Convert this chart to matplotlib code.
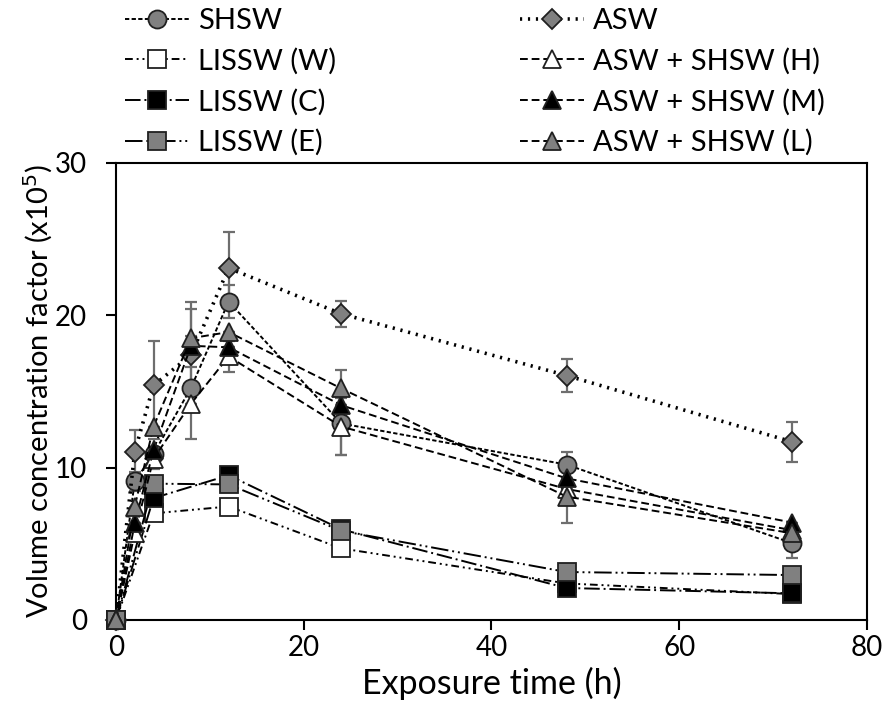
import numpy as np
import matplotlib
matplotlib.use('Agg')
import matplotlib.pyplot as plt

plt.rcParams['font.family'] = ['Lato', 'DejaVu Sans']

#%% datos
t = [0, 2, 4, 8, 12, 24, 48, 72]
t_lissw = [0, 4, 12, 24, 48, 72]

shsw = [0, 9.1, 10.9, 15.25, 20.9, 12.9, 10.2, 5.05]
shsw_err = [0, 0.6, 1.0, 3.4, 1.1, 2.1, 0.85, 1.0]
asw = [0, 11.05, 15.4, 17.4, 23.1, 20.1, 16.05, 11.7]
asw_err = [0, 1.45, 2.9, 3.5, 2.4, 0.85, 1.1, 1.3]

lissw_w = [0, 7.0, 7.45, 4.7, 2.4, 1.7]
lissw_c = [0, 8.0, 9.5, 5.95, 2.1, 1.75]
lissw_e = [0, 8.95, 8.9, 5.85, 3.15, 2.95]

mix_h = [0, 5.7, 10.6, 14.2, 17.3, 12.7, 8.6, 5.9]
mix_h_err = [0, 0, 0, 0, 1.0, 1.9, 0, 0]
mix_m = [0, 6.35, 11.15, 18.0, 17.9, 14.1, 9.3, 6.4]
mix_m_err = [0, 0, 0, 0, 0, 0, 0, 0]
mix_l = [0, 7.45, 12.7, 18.5, 18.9, 15.2, 8.1, 5.7]
mix_l_err = [0, 0, 0, 1.9, 0, 1.2, 1.75, 0]

#%% estilos
gris = '#808080'
gris_err = '#6e6e6e'
series = [
    (t, shsw, shsw_err, 'SHSW', 'o', 13, gris, (0, (2.2, 1.2)), 1.4),
    (t, asw, asw_err, 'ASW', 'D', 10, gris, (0, (0.6, 1.6)), 2.6),
    (t_lissw, lissw_w, None, 'LISSW (W)', 's', 13.5, 'white', (0, (4, 2, 1, 2, 1, 2)), 1.4),
    (t_lissw, lissw_c, None, 'LISSW (C)', 's', 13.5, 'black', (0, (8, 2, 1, 2)), 1.4),
    (t_lissw, lissw_e, None, 'LISSW (E)', 's', 13.5, gris, (0, (9, 2, 1, 2, 1, 2)), 1.4),
    (t, mix_h, mix_h_err, 'ASW + SHSW (H)', '^', 12.5, 'white', (0, (4, 2)), 1.4),
    (t, mix_m, mix_m_err, 'ASW + SHSW (M)', '^', 12.5, 'black', (0, (4, 2)), 1.4),
    (t, mix_l, mix_l_err, 'ASW + SHSW (L)', '^', 12.5, gris, (0, (4, 2)), 1.4),
]

fig = plt.figure(figsize=(8.88, 7.19), dpi=100)
ax = fig.add_axes([0.1306, 0.1377, 0.8457, 0.6356])

handles = {}
for k, (x, y, err, nombre, mk, ms, color, ls, lw) in enumerate(series):
    if err is not None:
        ax.errorbar(x, y, yerr=err, fmt='none', ecolor=gris_err, elinewidth=1.6,
                    capsize=4.5, capthick=1.6, zorder=2 + k * 0.1, clip_on=False)
    ln, = ax.plot(x, y, linestyle=ls, color='black', lw=lw, marker=mk, markersize=ms,
                  markerfacecolor=color, markeredgecolor='#202020', markeredgewidth=1.3,
                  zorder=3 + k * 0.1, clip_on=False, label=nombre)
    handles[nombre] = ln

ax.set_xlim(0, 80)
ax.set_ylim(0, 30)
ax.set_xticks([0, 20, 40, 60, 80])
ax.set_yticks([0, 10, 20, 30])
ax.tick_params(direction='out', length=7, width=1.5, labelsize=20)
ax.tick_params(axis='x', pad=4)
ax.tick_params(axis='y', pad=14)
for s in ax.spines.values():
    s.set_linewidth(1.5)
ax.set_xlabel('Exposure time (h)', fontsize=24.5, labelpad=4)
ax.set_ylabel('Volume concentration factor (x10$^5$)', fontsize=21)
ax.yaxis.set_label_coords(-0.081, 0.5)

orden = ['SHSW', 'LISSW (W)', 'LISSW (C)', 'LISSW (E)',
         'ASW', 'ASW + SHSW (H)', 'ASW + SHSW (M)', 'ASW + SHSW (L)']
fig.legend([handles[n] for n in orden], orden, loc='upper left', ncol=2,
           bbox_to_anchor=(0.128, 1.005), frameon=False, fontsize=21,
           handlelength=2.2, handletextpad=0.3, columnspacing=6.3,
           labelspacing=0.47, borderaxespad=0)

fig.savefig('out.png', dpi=100)
